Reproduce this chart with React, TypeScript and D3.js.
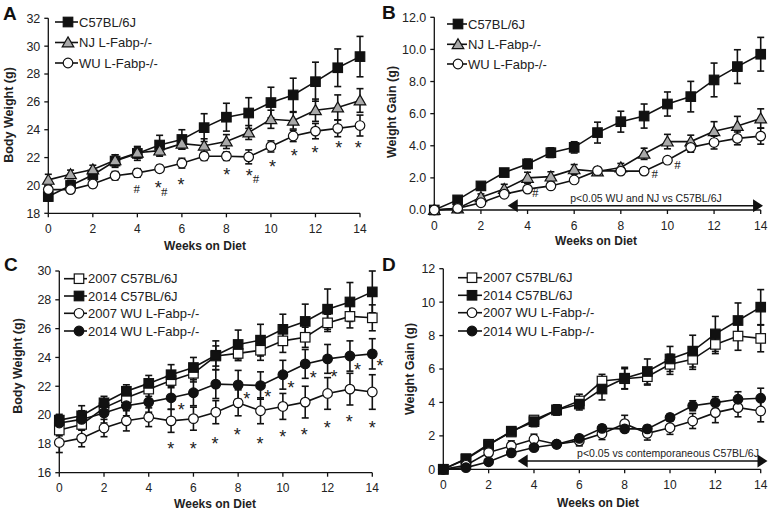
import React from 'react';
import * as d3 from 'd3';

const weeks = [0, 1, 2, 3, 4, 5, 6, 7, 8, 9, 10, 11, 12, 13, 14];
const xTickValues = [0, 2, 4, 6, 8, 10, 12, 14];

// Panel A – body weight
const aC57 = [19.2, 20.0, 20.75, 21.75, 22.3, 22.9, 23.3, 24.15, 24.9, 25.2, 25.95, 26.5, 27.45, 28.45, 29.25];
const aC57Err = [0.3, 0.35, 0.4, 0.45, 0.5, 0.7, 0.7, 1.0, 1.0, 1.1, 1.1, 1.2, 1.4, 1.35, 1.45];
const aNJ = [20.4, 20.8, 21.15, 21.8, 22.35, 22.5, 23.0, 22.85, 23.15, 23.8, 24.75, 24.65, 25.4, 25.6, 26.1];
const aNJErr = [0.4, 0.3, 0.3, 0.4, 0.4, 0.4, 0.4, 0.5, 0.5, 0.5, 0.65, 0.6, 0.8, 0.9, 0.85];
const aWU = [19.7, 19.7, 20.1, 20.7, 20.9, 21.2, 21.6, 22.1, 22.1, 22.05, 22.8, 23.55, 23.9, 24.1, 24.3];
const aWUErr = [0.3, 0.25, 0.25, 0.3, 0.3, 0.25, 0.35, 0.3, 0.3, 0.5, 0.4, 0.4, 0.55, 0.6, 0.75];
const aYTicks = [18, 20, 22, 24, 26, 28, 30, 32];
const aStarX = [4.94, 5.96, 8.01, 9.03, 10.07, 11.05, 11.98, 13.05, 13.92];
const aStarY = [20.1, 20.3, 21.05, 21.0, 21.6, 22.4, 22.6, 23.0, 23.0];
const aHashX = [3.97, 5.21, 9.33];
const aHashY = [19.8, 19.55, 20.5];

// Panel B – weight gain
const bC57 = [0, 0.63, 1.5, 2.33, 2.87, 3.57, 3.9, 4.82, 5.5, 5.85, 6.6, 7.06, 8.1, 8.93, 9.7];
const bC57Err = [0, 0.2, 0.15, 0.2, 0.3, 0.3, 0.35, 0.65, 0.65, 0.75, 0.75, 0.95, 1.05, 1.05, 1.05];
const bNJ = [0, 0.1, 0.8, 1.3, 2.0, 2.08, 2.53, 2.4, 2.65, 3.5, 4.26, 4.26, 4.9, 5.23, 5.7];
const bNJErr = [0, 0.2, 0.2, 0.3, 0.35, 0.3, 0.3, 0.2, 0.25, 0.35, 0.45, 0.4, 0.6, 0.6, 0.6];
const bWU = [0, 0.1, 0.45, 0.98, 1.3, 1.5, 1.87, 2.45, 2.42, 2.42, 3.1, 3.9, 4.2, 4.46, 4.6];
const bWUErr = [0, 0.1, 0.15, 0.15, 0.15, 0.15, 0.15, 0.2, 0.2, 0.2, 0.2, 0.3, 0.4, 0.4, 0.5];
const bYTicks = [0, 2, 4, 6, 8, 10, 12];
const bHashX = [4.33, 9.46, 10.43];
const bHashY = [1.1, 2.28, 2.84];
const bSigRange = [3.15, 14.1];
const bSigLabel = 'p<0.05 WU and NJ vs C57BL/6J';

// Panel C – body weight, 2007 vs 2014
const c07C57 = [18.96, 19.35, 20.5, 21.2, 21.8, 22.4, 22.9, 24.1, 24.28, 24.5, 25.15, 25.4, 26.4, 26.85, 26.75];
const c07C57Err = [0.4, 0.4, 0.4, 0.45, 0.5, 0.5, 0.6, 0.7, 0.5, 0.7, 0.8, 0.7, 0.6, 0.8, 0.9];
const c14C57 = [19.65, 19.95, 20.85, 21.65, 22.2, 22.8, 23.3, 24.15, 24.9, 25.2, 25.95, 26.5, 27.35, 27.85, 28.55];
const c14C57Err = [0.3, 0.7, 0.45, 0.45, 0.55, 0.7, 0.7, 1.0, 1.0, 1.1, 1.05, 1.2, 1.4, 1.35, 1.45];
const c07WU = [18.1, 18.4, 19.1, 19.6, 19.85, 19.6, 19.75, 20.2, 20.85, 20.3, 20.6, 20.9, 21.5, 21.8, 21.6];
const c07WUErr = [0.7, 0.6, 0.6, 0.7, 0.65, 0.8, 0.8, 0.8, 0.9, 0.9, 0.9, 1.1, 1.1, 1.1, 1.2];
const c14WU = [19.45, 19.7, 20.15, 20.65, 20.9, 21.2, 21.55, 22.15, 22.1, 22.05, 22.8, 23.55, 23.9, 24.1, 24.25];
const c14WUErr = [0.6, 0.6, 0.7, 0.7, 0.7, 0.8, 0.9, 1.0, 1.0, 0.95, 1.0, 1.0, 1.0, 1.05, 1.05];
const cYTicks = [16, 18, 20, 22, 24, 26, 28, 30];
const cStarUpX = [5.45, 8.38, 9.32, 10.36, 11.36, 12.29, 13.34, 14.34];
const cStarUpY = [20.6, 21.37, 21.55, 22.13, 22.83, 22.95, 23.4, 23.7];
const cStarLoX = [4.98, 5.99, 6.96, 7.96, 8.98, 9.99, 10.96, 11.99, 12.97, 14.0];
const cStarLoY = [17.9, 17.95, 18.3, 18.9, 18.3, 18.76, 18.9, 19.35, 19.8, 19.35];

// Panel D – weight gain, 2007 vs 2014
const d07C57 = [0, 0.64, 1.5, 2.23, 2.95, 3.55, 4.09, 5.28, 5.42, 5.54, 6.28, 6.58, 7.47, 7.97, 7.83];
const d07C57Err = [0, 0.2, 0.2, 0.25, 0.25, 0.3, 0.4, 0.4, 0.6, 0.5, 0.6, 0.6, 0.55, 0.85, 0.8];
const d14C57 = [0, 0.6, 1.45, 2.28, 2.85, 3.55, 3.9, 4.8, 5.45, 5.85, 6.6, 7.07, 8.1, 8.9, 9.7];
const d14C57Err = [0, 0.2, 0.15, 0.2, 0.3, 0.3, 0.35, 0.65, 0.65, 0.75, 0.75, 0.95, 1.05, 1.05, 1.05];
const d07WU = [0, 0.24, 1.0, 1.4, 1.8, 1.5, 1.7, 2.13, 2.73, 2.15, 2.49, 2.89, 3.39, 3.69, 3.49];
const d07WUErr = [0, 0.2, 0.2, 0.3, 0.3, 0.2, 0.3, 0.35, 0.5, 0.4, 0.4, 0.45, 0.6, 0.55, 0.65];
const d14WU = [0, 0.1, 0.45, 0.98, 1.3, 1.5, 1.85, 2.45, 2.42, 2.42, 3.1, 3.8, 3.99, 4.19, 4.25];
const d14WUErr = [0, 0.1, 0.15, 0.15, 0.15, 0.15, 0.15, 0.2, 0.2, 0.2, 0.2, 0.3, 0.35, 0.45, 0.6];
const dYTicks = [0, 2, 4, 6, 8, 10, 12];
const dSigRange = [3.28, 14.3];
const dSigLabel = 'p<0.05 vs contemporaneous C57BL/6J';

const INK = '#111';
const GRAY = '#a9a9a9';
const FONT = 'Liberation Sans, Arial, Helvetica, sans-serif';

type Sym = 'square' | 'triangle' | 'circle';
interface Series {
  name: string;
  values: number[];
  errors: number[];
  sym: Sym;
  fill: string;
}

function Marker({ sym, fill, x, y }: { sym: Sym; fill: string; x: number; y: number }) {
  if (sym === 'square') {
    const s = 9.5;
    return <rect x={x - s / 2} y={y - s / 2} width={s} height={s} fill={fill} stroke={INK} strokeWidth={1.2} />;
  }
  if (sym === 'circle') {
    return <circle cx={x} cy={y} r={4.8} fill={fill} stroke={INK} strokeWidth={1.2} />;
  }
  const h = 5.6;
  return (
    <path
      d={`M${x},${y - h} L${x + 5.8},${y + 4.4} L${x - 5.8},${y + 4.4} Z`}
      fill={fill}
      stroke={INK}
      strokeWidth={1.2}
    />
  );
}

interface PanelProps {
  letter: string;
  letterPos: [number, number];
  xRange: [number, number];
  yRange: [number, number];
  yDomain: [number, number];
  yTicks: number[];
  yFmt: (v: number) => string;
  yTitle: string;
  yTitlePos: [number, number];
  xTitlePos: [number, number];
  series: Series[];
  legend: { lineX: [number, number]; markerX: number; textX: number; rows: number[] };
  stars?: { x: number[]; y: number[] }[];
  hashes?: { x: number[]; y: number[] };
  sig?: { range: number[]; label: string; yPix: number; labelX: number; labelY: number };
}

function Panel(p: PanelProps) {
  const x = d3.scaleLinear().domain([0, 14]).range(p.xRange);
  const y = d3.scaleLinear().domain(p.yDomain).range(p.yRange);
  const line = d3
    .line<number>()
    .x((_, i) => x(weeks[i]))
    .y((d) => y(d));
  const x0 = p.xRange[0];
  const yb = p.yRange[0];
  return (
    <g fontFamily={FONT} fill={INK}>
      <text x={p.letterPos[0]} y={p.letterPos[1]} fontSize={19} fontWeight="bold">
        {p.letter}
      </text>
      {/* axes */}
      <line x1={x0} x2={x0} y1={p.yRange[1]} y2={yb} stroke={INK} strokeWidth={1.3} />
      <line x1={x0} x2={p.xRange[1]} y1={yb} y2={yb} stroke={INK} strokeWidth={1.3} />
      {p.yTicks.map((t) => (
        <g key={'y' + t}>
          <line x1={x0 - 4} x2={x0} y1={y(t)} y2={y(t)} stroke={INK} strokeWidth={1.3} />
          <text x={x0 - 8} y={y(t)} dy="0.35em" textAnchor="end" fontSize={12.5} fill="#222">
            {p.yFmt(t)}
          </text>
        </g>
      ))}
      {xTickValues.map((t) => (
        <g key={'x' + t}>
          <line x1={x(t)} x2={x(t)} y1={yb} y2={yb + 4} stroke={INK} strokeWidth={1.3} />
          <text x={x(t)} y={yb + 15.5} dy="0.35em" textAnchor="middle" fontSize={12} fill="#222">
            {t}
          </text>
        </g>
      ))}
      <text
        x={p.xTitlePos[0]}
        y={p.xTitlePos[1]}
        textAnchor="middle"
        fontSize={12}
        fontWeight="bold"
        fill="#222"
      >
        Weeks on Diet
      </text>
      <text
        transform={`translate(${p.yTitlePos[0]},${p.yTitlePos[1]}) rotate(-90)`}
        textAnchor="middle"
        dy="0.35em"
        fontSize={12.5}
        fontWeight="bold"
        fill="#222"
      >
        {p.yTitle}
      </text>
      {/* significance arrow */}
      {p.sig && (
        <g>
          <line
            x1={x(p.sig.range[0]) + 8}
            x2={x(p.sig.range[1]) - 8}
            y1={p.sig.yPix}
            y2={p.sig.yPix}
            stroke={INK}
            strokeWidth={1.5}
          />
          <path d={`M${x(p.sig.range[0])},${p.sig.yPix} l10,-6.5 l0,13 Z`} fill={INK} />
          <path d={`M${x(p.sig.range[1])},${p.sig.yPix} l-10,-6.5 l0,13 Z`} fill={INK} />
          <text x={p.sig.labelX} y={p.sig.labelY} textAnchor="middle" fontSize={10.5} fill="#222">
            {p.sig.label}
          </text>
        </g>
      )}
      {/* series */}
      {p.series.map((s) => (
        <g key={s.name}>
          <path d={line(s.values) || ''} fill="none" stroke={INK} strokeWidth={1.6} />
          {s.values.map((v, i) =>
            s.errors[i] > 0 ? (
              <g key={i} stroke={INK} strokeWidth={1.6}>
                <line x1={x(weeks[i])} x2={x(weeks[i])} y1={y(v - s.errors[i])} y2={y(v + s.errors[i])} />
                <line x1={x(weeks[i]) - 3.5} x2={x(weeks[i]) + 3.5} y1={y(v + s.errors[i])} y2={y(v + s.errors[i])} />
                <line x1={x(weeks[i]) - 3.5} x2={x(weeks[i]) + 3.5} y1={y(v - s.errors[i])} y2={y(v - s.errors[i])} />
              </g>
            ) : null
          )}
        </g>
      ))}
      {p.series.map((s) => (
        <g key={s.name + 'm'}>
          {s.values.map((v, i) => (
            <Marker key={i} sym={s.sym} fill={s.fill} x={x(weeks[i])} y={y(v)} />
          ))}
        </g>
      ))}
      {/* annotations */}
      {p.stars &&
        p.stars.map((st, k) =>
          st.x.map((sx, i) => (
            <text key={`s${k}-${i}`} x={x(sx)} y={y(st.y[i]) + 10} textAnchor="middle" fontSize={18} fill="#222">
              *
            </text>
          ))
        )}
      {p.hashes &&
        p.hashes.x.map((hx, i) => (
          <text
            key={'h' + i}
            x={x(hx)}
            y={y(p.hashes!.y[i]) + 4.5}
            textAnchor="middle"
            fontSize={13}
            fontFamily="Liberation Serif, Times New Roman, serif"
            fill="#222"
          >
            #
          </text>
        ))}
      {/* legend */}
      {p.series.map((s, i) => (
        <g key={s.name + 'lg'}>
          <line
            x1={p.legend.lineX[0]}
            x2={p.legend.lineX[1]}
            y1={p.legend.rows[i]}
            y2={p.legend.rows[i]}
            stroke={INK}
            strokeWidth={1.6}
          />
          <Marker sym={s.sym} fill={s.fill} x={p.legend.markerX} y={p.legend.rows[i]} />
          <text x={p.legend.textX} y={p.legend.rows[i]} dy="0.36em" fontSize={13} fill="#222">
            {s.name}
          </text>
        </g>
      ))}
    </g>
  );
}

export default function App() {
  const seriesA: Series[] = [
    { name: 'C57BL/6J', values: aC57, errors: aC57Err, sym: 'square', fill: INK },
    { name: 'NJ L-Fabp-/-', values: aNJ, errors: aNJErr, sym: 'triangle', fill: GRAY },
    { name: 'WU L-Fabp-/-', values: aWU, errors: aWUErr, sym: 'circle', fill: '#fff' },
  ];
  const seriesB: Series[] = [
    { name: 'C57BL/6J', values: bC57, errors: bC57Err, sym: 'square', fill: INK },
    { name: 'NJ L-Fabp-/-', values: bNJ, errors: bNJErr, sym: 'triangle', fill: GRAY },
    { name: 'WU L-Fabp-/-', values: bWU, errors: bWUErr, sym: 'circle', fill: '#fff' },
  ];
  const seriesC: Series[] = [
    { name: '2007 C57BL/6J', values: c07C57, errors: c07C57Err, sym: 'square', fill: '#fff' },
    { name: '2014 C57BL/6J', values: c14C57, errors: c14C57Err, sym: 'square', fill: INK },
    { name: '2007 WU L-Fabp-/-', values: c07WU, errors: c07WUErr, sym: 'circle', fill: '#fff' },
    { name: '2014 WU L-Fabp-/-', values: c14WU, errors: c14WUErr, sym: 'circle', fill: INK },
  ];
  const seriesD: Series[] = [
    { name: '2007 C57BL/6J', values: d07C57, errors: d07C57Err, sym: 'square', fill: '#fff' },
    { name: '2014 C57BL/6J', values: d14C57, errors: d14C57Err, sym: 'square', fill: INK },
    { name: '2007 WU L-Fabp-/-', values: d07WU, errors: d07WUErr, sym: 'circle', fill: '#fff' },
    { name: '2014 WU L-Fabp-/-', values: d14WU, errors: d14WUErr, sym: 'circle', fill: INK },
  ];
  const f0 = (v: number) => String(v);
  const f1 = d3.format('.1f');
  return (
    <svg width={771} height={512} style={{ position: 'absolute', left: 0, top: 0, background: '#fff' }}>
      <rect width={771} height={512} fill="#fff" />
      <Panel
        letter="A"
        letterPos={[3, 20]}
        xRange={[48.3, 360]}
        yRange={[213.3, 18.3]}
        yDomain={[18, 32]}
        yTicks={aYTicks}
        yFmt={f0}
        yTitle="Body Weight (g)"
        yTitlePos={[9, 115]}
        xTitlePos={[205, 250]}
        series={seriesA}
        legend={{ lineX: [55, 78], markerX: 68, textX: 79, rows: [22, 42.5, 63] }}
        stars={[{ x: aStarX, y: aStarY }]}
        hashes={{ x: aHashX, y: aHashY }}
      />
      <Panel
        letter="B"
        letterPos={[382, 19]}
        xRange={[434.3, 760.7]}
        yRange={[210, 17.3]}
        yDomain={[0, 12]}
        yTicks={bYTicks}
        yFmt={f1}
        yTitle="Weight Gain (g)"
        yTitlePos={[392, 112]}
        xTitlePos={[596, 245]}
        series={seriesB}
        legend={{ lineX: [447, 467], markerX: 458, textX: 468, rows: [24, 44.3, 64] }}
        hashes={{ x: bHashX, y: bHashY }}
        sig={{ range: bSigRange, label: bSigLabel, yPix: 205.7, labelX: 646, labelY: 201.5 }}
      />
      <Panel
        letter="C"
        letterPos={[4, 271]}
        xRange={[59.3, 372.3]}
        yRange={[472.7, 271]}
        yDomain={[16, 30]}
        yTicks={cYTicks}
        yFmt={f0}
        yTitle="Body Weight (g)"
        yTitlePos={[18, 366]}
        xTitlePos={[215, 507.5]}
        series={seriesC}
        legend={{ lineX: [64, 87], markerX: 79, textX: 88, rows: [278.7, 296, 313.3, 331] }}
        stars={[
          { x: cStarUpX, y: cStarUpY },
          { x: cStarLoX, y: cStarLoY },
        ]}
      />
      <Panel
        letter="D"
        letterPos={[382, 271]}
        xRange={[443.3, 760.7]}
        yRange={[469.3, 268.7]}
        yDomain={[0, 12]}
        yTicks={dYTicks}
        yFmt={f0}
        yTitle="Weight Gain (g)"
        yTitlePos={[410, 369]}
        xTitlePos={[598, 506.5]}
        series={seriesD}
        legend={{ lineX: [458, 482], markerX: 472, textX: 483, rows: [277.7, 295.3, 312.7, 331] }}
        sig={{ range: dSigRange, label: dSigLabel, yPix: 461, labelX: 668, labelY: 457 }}
      />
    </svg>
  );
}
